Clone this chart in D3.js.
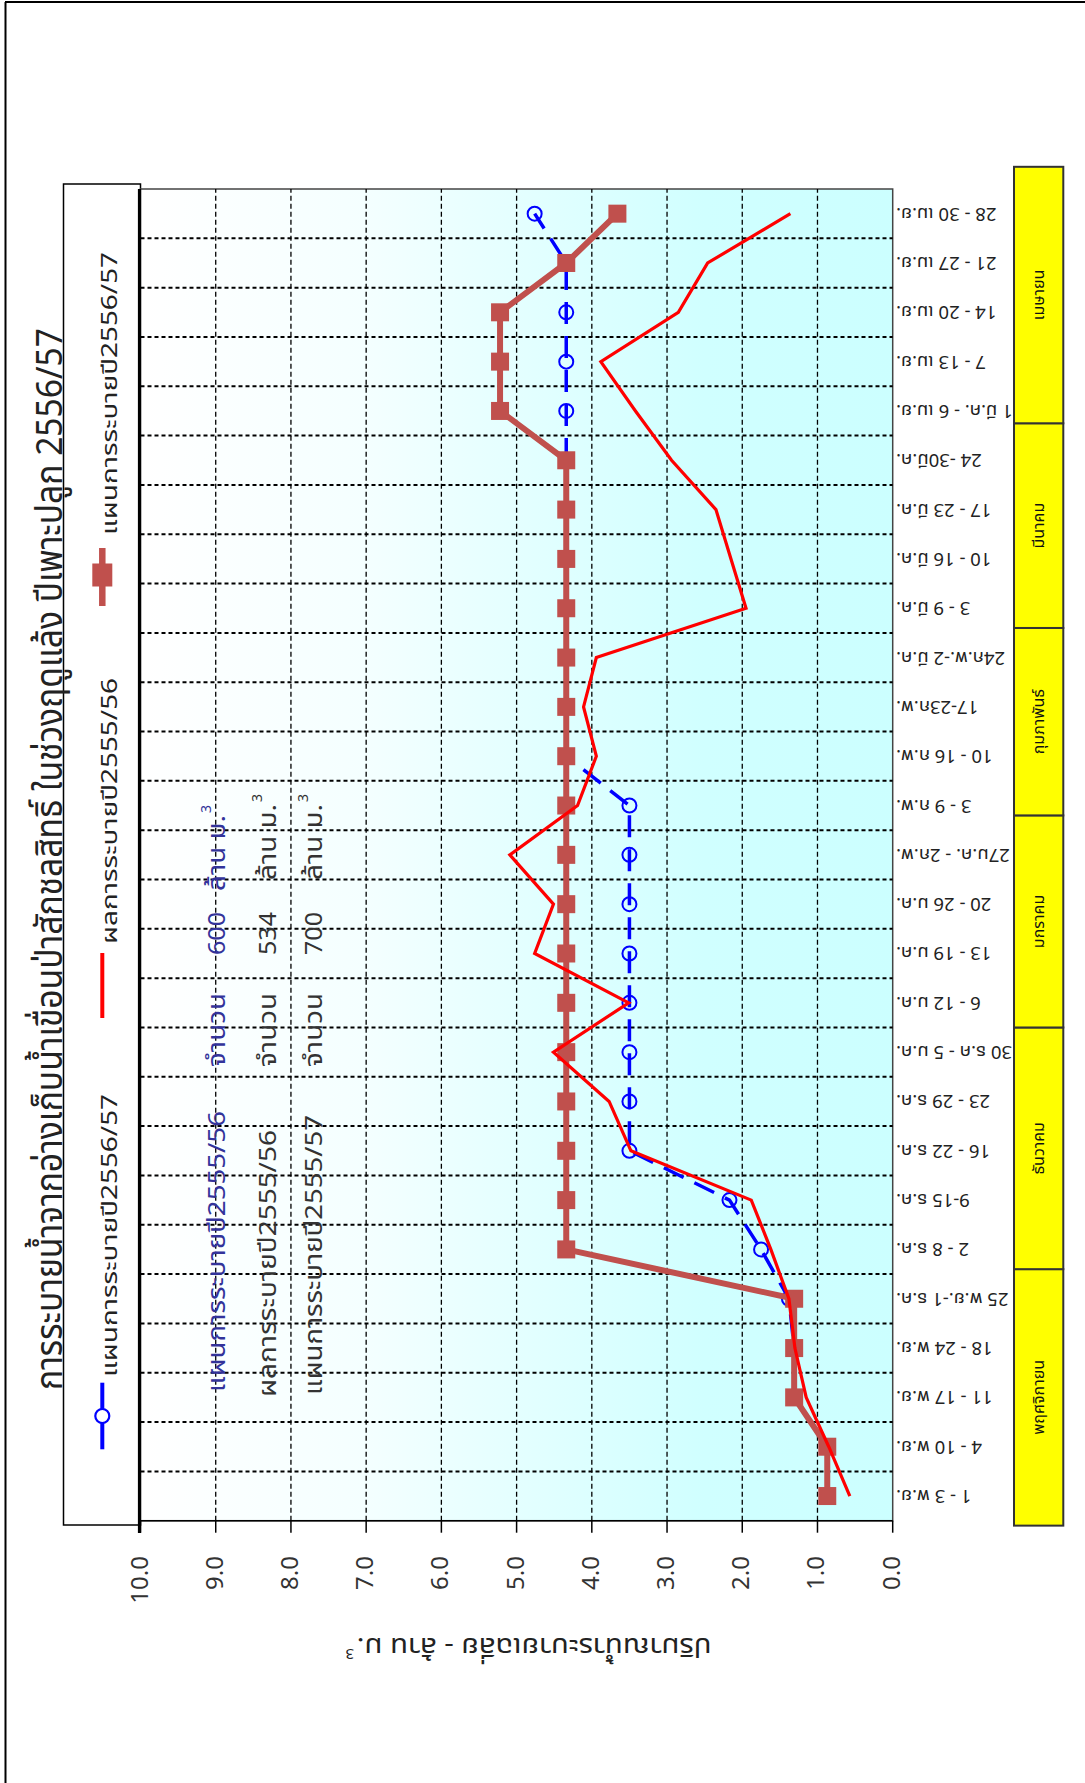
<!DOCTYPE html>
<html><head><meta charset="utf-8">
<script src="https://cdn.jsdelivr.net/npm/d3@7"></script>
<style>
html,body{margin:0;padding:0;background:#fff;}
svg{display:block;}
text{font-family:"Tahoma","Noto Sans Thai","Noto Sans Thai UI","Loma","Garuda","Sarabun","Noto Sans","DejaVu Sans",sans-serif;}
</style></head><body>
<svg id="c" width="1085" height="1783"></svg>
<script>
// ---------------- DATA ----------------
const categories = ["1 - 3 พ.ย.","4 - 10 พ.ย.","11 - 17 พ.ย.","18 - 24 พ.ย.","25 พ.ย.-1 ธ.ค.","2 - 8 ธ.ค.","9-15 ธ.ค.","16 - 22 ธ.ค.","23 - 29 ธ.ค.","30 ธ.ค - 5 ม.ค.","6 - 12 ม.ค.","13 - 19 ม.ค.","20 - 26 ม.ค.","27ม.ค. - 2ก.พ.","3 - 9 ก.พ.","10 - 16 ก.พ.","17-23ก.พ.","24ก.พ.-2 มี.ค.","3 - 9 มี.ค.","10 - 16 มี.ค.","17 - 23 มี.ค.","24 -30มี.ค.","31 มี.ค. - 6 เม.ย.","7 - 13 เม.ย.","14 - 20 เม.ย.","21 - 27 เม.ย.","28 - 30 เม.ย."];
// blue dashed, open circles
const planBlue = [0.87,0.87,1.31,1.31,1.38,1.75,2.17,3.5,3.5,3.5,3.5,3.5,3.5,3.5,3.5,4.34,4.34,4.34,4.34,4.34,4.34,4.34,4.34,4.34,4.34,4.34,4.76];
// red solid
const resultRed = [0.57,0.85,1.15,1.3,1.38,1.62,1.88,3.48,3.77,4.51,3.51,4.76,4.51,5.09,4.19,3.94,4.11,3.94,1.95,2.15,2.35,2.94,3.42,3.88,2.85,2.46,1.36];
// brown squares
const planBrown = [0.87,0.87,1.31,1.31,1.31,4.34,4.34,4.34,4.34,4.34,4.34,4.34,4.34,4.34,4.34,4.34,4.34,4.34,4.34,4.34,4.34,4.34,5.22,5.22,5.22,4.34,3.66];
const valueTicks = [0,1,2,3,4,5,6,7,8,9,10];
const tickLabels = ["0.0","1.0","2.0","3.0","4.0","5.0","6.0","7.0","8.0","9.0","10.0"];
const months = ["พฤศจิกายน","ธันวาคม","มกราคม","กุมภาพันธ์","มีนาคม","เมษายน"];
const monthEdges = [-0.1,5.1,10.0,14.3,18.1,22.25,27.45]; // in category units
const legendLabels = ["แผนการระบายปี2556/57","ผลการระบายปี2555/56","แผนการระบายปี2556/57"];
const tableLabels = ["แผนการระบายปี2555/56","ผลการระบายปี2555/56","แผนการระบายปี2555/57"];
const tableAmounts = ["600","534","700"];
const titleText = "การระบายน้ำจากอ่างเก็บน้ำเขื่อนป่าสักชลสิทธิ์ ในช่วงฤดูแล้ง ปีเพาะปลูก 2556/57";
const axisTitle = "ปริมาณน้ำระบายเฉลี่ย - ล้าน ม.";

// ---------------- DRAW ----------------
const svg = d3.select("#c");
const H = 1783;
// outer frame (top + left)
svg.append("line").attr("x1",5).attr("y1",2).attr("x2",1085).attr("y2",2).attr("stroke","#000").attr("stroke-width",2);
svg.append("line").attr("x1",5.5).attr("y1",2).attr("x2",5.5).attr("y2",1783).attr("stroke","#000").attr("stroke-width",2);

const defs = svg.append("defs");
const grad = defs.append("linearGradient").attr("id","bg").attr("x1",0).attr("y1",0).attr("x2",0).attr("y2",1);
[[0,"#ffffff"],[0.3,"#f4ffff"],[0.55,"#e0ffff"],[0.75,"#d0ffff"],[1,"#ccffff"]].forEach(s=>grad.append("stop").attr("offset",s[0]).attr("stop-color",s[1]));

// chart built in unrotated frame, then turned -90deg
const g = svg.append("g").attr("transform",`translate(0,${H}) rotate(-90)`);
const PL=262.3, PR=1594, PT=140.5, PB=892.7;
const x = d3.scaleBand().domain(categories).range([PL,PR]).padding(0);
const y = d3.scaleLinear().domain([0,10]).range([PB,PT]);
const pos = d3.scaleLinear().domain([0,categories.length]).range([PL,PR]);
const cx = d => x(d) + x.bandwidth()/2;

// legend box
g.append("rect").attr("x",258).attr("y",63.5).attr("width",1599-258).attr("height",140.5-63.5)
  .attr("fill","#fff").attr("stroke","#000").attr("stroke-width",1.5);

// plot area
g.append("rect").attr("x",PL).attr("y",PT).attr("width",PR-PL).attr("height",PB-PT)
  .attr("fill","url(#bg)").attr("stroke","#444").attr("stroke-width",1.5);

// value gridlines
g.append("g").selectAll("line").data(valueTicks.filter(v=>v>0 && v<10)).join("line")
  .attr("x1",PL).attr("x2",PR).attr("y1",d=>y(d)).attr("y2",d=>y(d))
  .attr("stroke","#000").attr("stroke-width",1.3).attr("stroke-dasharray","5,3");
// category gridlines
g.append("g").selectAll("line").data(d3.range(1,categories.length)).join("line")
  .attr("x1",d=>pos(d)).attr("x2",d=>pos(d)).attr("y1",PT).attr("y2",PB)
  .attr("stroke","#000").attr("stroke-width",2).attr("stroke-dasharray","4,3");

// value axis (left in this frame)
g.append("line").attr("x1",PL).attr("x2",PL).attr("y1",PT).attr("y2",PB).attr("stroke","#000").attr("stroke-width",1.5);
g.append("g").selectAll("line").data(valueTicks).join("line")
  .attr("x1",PL-12).attr("x2",PL).attr("y1",d=>y(d)).attr("y2",d=>y(d)).attr("stroke","#000").attr("stroke-width",1.5);
g.append("g").selectAll("text").data(valueTicks).join("text")
  .attr("x",227).attr("y",d=>y(d)).attr("text-anchor","end").attr("dominant-baseline","central")
  .attr("font-size",24).attr("fill","#333").text((d,i)=>tickLabels[i]);
// thick edge
g.append("line").attr("x1",250).attr("x2",PR).attr("y1",139.5).attr("y2",139.5).attr("stroke","#000").attr("stroke-width",3.2);

// axis title (upside down on screen)
g.append("text").attr("transform","translate(145,534) rotate(-90)").attr("text-anchor","middle")
  .attr("font-size",26).attr("fill","#222").attr("textLength",355).attr("lengthAdjust","spacingAndGlyphs").text(axisTitle);
g.append("text").attr("transform","translate(134,354) rotate(-90)").attr("font-size",15).attr("fill","#222").text("3");

// category labels
g.append("g").selectAll("text").data(categories).join("text")
  .attr("transform",d=>`translate(${cx(d)},896) rotate(-90)`).attr("text-anchor","end").attr("dominant-baseline","central")
  .attr("font-size",18.5).attr("fill","#222").text(d=>d);

// month boxes
const mg = g.append("g");
months.forEach((m,i)=>{
  const u0=pos(monthEdges[i]), u1=pos(monthEdges[i+1]);
  mg.append("rect").attr("x",u0).attr("y",1014).attr("width",u1-u0).attr("height",49.3)
    .attr("fill","#ffff00").attr("stroke","#333").attr("stroke-width",2);
  mg.append("text").attr("x",(u0+u1)/2).attr("y",1044).attr("text-anchor","middle")
    .attr("font-size",16).attr("fill","#111").text(m);
});

// series
const line = d3.line().x((d,i)=>cx(categories[i])).y(d=>y(d));
g.append("path").datum(planBlue).attr("d",line).attr("fill","none").attr("stroke","#0000ff")
  .attr("stroke-width",3.5).attr("stroke-dasharray","22,12");
g.append("g").selectAll("circle").data(planBlue).join("circle")
  .attr("cx",(d,i)=>cx(categories[i])).attr("cy",d=>y(d)).attr("r",7)
  .attr("fill","none").attr("stroke","#0000ff").attr("stroke-width",2);
g.append("path").datum(planBrown).attr("d",line).attr("fill","none").attr("stroke","#c0504d").attr("stroke-width",6);
g.append("g").selectAll("rect").data(planBrown).join("rect")
  .attr("x",(d,i)=>cx(categories[i])-9).attr("y",d=>y(d)-9).attr("width",18).attr("height",18).attr("fill","#c0504d");
g.append("path").datum(resultRed).attr("d",line).attr("fill","none").attr("stroke","#ff0000").attr("stroke-width",3.2);

// legend items
const lv = 102.3;
g.append("line").attr("x1",333.7).attr("x2",400.3).attr("y1",lv).attr("y2",lv).attr("stroke","#0000ff").attr("stroke-width",4);
g.append("circle").attr("cx",367).attr("cy",lv).attr("r",7).attr("fill","#fff").attr("stroke","#0000ff").attr("stroke-width",2.2);
g.append("line").attr("x1",765).attr("x2",830).attr("y1",lv).attr("y2",lv).attr("stroke","#ff0000").attr("stroke-width",4);
g.append("line").attr("x1",1177).attr("x2",1235).attr("y1",lv).attr("y2",lv).attr("stroke","#c0504d").attr("stroke-width",6.5);
g.append("rect").attr("x",1208-11.5).attr("y",lv-10).attr("width",23).attr("height",20).attr("fill","#c0504d");
const legendStarts=[406,839,1248], legendLens=[283,266,283];
legendLabels.forEach((t,i)=>{
  g.append("text").attr("x",legendStarts[i]).attr("y",116.5).attr("font-size",21).attr("fill","#222")
   .attr("textLength",legendLens[i]).attr("lengthAdjust","spacingAndGlyphs").text(t);
});

// title
g.append("text").attr("x",393).attr("y",62).attr("font-size",37).attr("fill","#222")
  .attr("textLength",1062).attr("lengthAdjust","spacingAndGlyphs").text(titleText);

// data table text
const rowBase=[225,276,322], rowColor=["#33339a","#333","#333"];
const rowStart=[391,386,388], rowLen=[281,267,280];
tableLabels.forEach((t,i)=>{
  const r = g.append("g").attr("fill",rowColor[i]).attr("font-size",24);
  r.append("text").attr("x",rowStart[i]).attr("y",rowBase[i]).attr("textLength",rowLen[i]).attr("lengthAdjust","spacingAndGlyphs").text(t);
  r.append("text").attr("x",716).attr("y",rowBase[i]).attr("textLength",74).attr("lengthAdjust","spacingAndGlyphs").text("จำนวน");
  r.append("text").attr("x",828).attr("y",rowBase[i]).attr("textLength",43).attr("lengthAdjust","spacingAndGlyphs").text(tableAmounts[i]);
  const u0 = i===0?892:903;
  r.append("text").attr("x",u0).attr("y",rowBase[i]).attr("textLength",76).attr("lengthAdjust","spacingAndGlyphs").text("ล้าน ม.");
  r.append("text").attr("x",u0+78).attr("y",rowBase[i]-14).attr("font-size",14).text("3");
});
</script>
</body></html>
